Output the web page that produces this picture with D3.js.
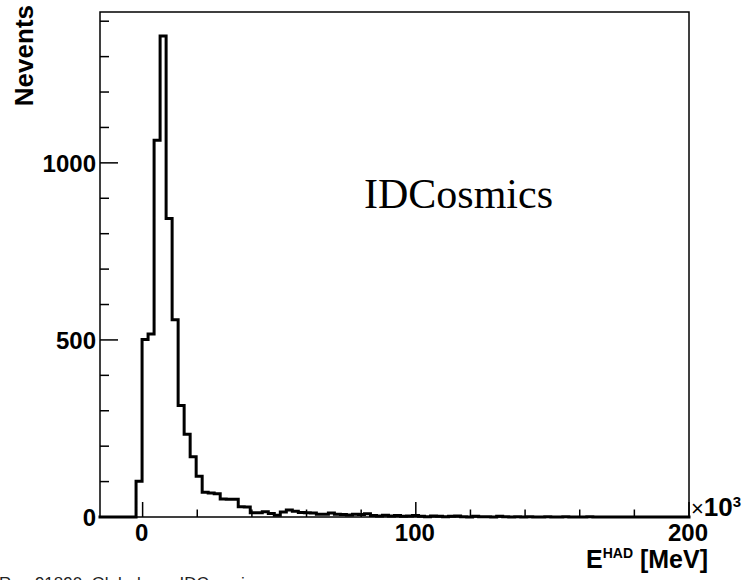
<!DOCTYPE html>
<html>
<head>
<meta charset="utf-8">
<script src="https://cdn.jsdelivr.net/npm/d3@7"></script>
<style>
  html, body { margin: 0; padding: 0; background: #fff; }
  svg { display: block; }
</style>
</head>
<body>
<svg id="chart" width="751" height="580"></svg>
<script>
// Histogram binning: 100 bins of 2.2 GeV starting at -20 GeV
const binStart = -20;
const binWidth = 2.2;
// Entries per bin (E^HAD in units of 10^3 MeV)
const counts = [
  0, 0, 0, 0, 0, 0, 0, 0,
  101, 501, 517, 1064, 1358, 843, 557, 315, 234, 170,
  115, 70, 68, 66, 51, 50, 50, 29, 28, 12,
  12, 15, 10, 5, 14, 20, 16, 13, 12, 11,
  8, 8, 11, 8, 7, 6, 8, 7, 9, 4,
  3, 5, 3, 4, 2, 3, 4, 2, 1, 3,
  2, 1, 2, 3, 1, 0, 2, 1, 1, 0,
  2, 1, 0, 1, 0, 1, 0, 0, 1, 0,
  0, 1, 0, 0, 0, 1, 0, 0, 0, 0,
  0, 0, 0, 0, 0, 0, 0, 0, 0, 0
];
const xDomain = [-15.6, 200];
const yDomain = [0, 1426];
const xMajorTicks = [0, 100, 200];
const xMinorTicks = [20, 40, 60, 80, 120, 140, 160, 180];
const yMajorTicks = [0, 500, 1000];
const yMinorTicks = [100, 200, 300, 400, 600, 700, 800, 900, 1100, 1200, 1300, 1400];

const svg = d3.select("#chart");
const plotL = 100, plotR = 689, plotT = 12, plotB = 517;

const x = d3.scaleLinear().domain(xDomain).range([plotL, plotR]);
const y = d3.scaleLinear().domain(yDomain).range([plotB, plotT]);

const sans = "'Liberation Sans', Arial, Helvetica, sans-serif";

// Step outline of the histogram, clipped to the visible axis range
const bins = counts.map((c, i) => ({
  lo: binStart + i * binWidth,
  hi: binStart + (i + 1) * binWidth,
  v: c
})).filter(b => b.hi > xDomain[0] + 1e-9 && b.lo < xDomain[1] + 1e-9);

const pts = [[xDomain[0], 0]];
bins.forEach(b => {
  const lo = Math.max(b.lo, xDomain[0]);
  const hi = Math.min(b.hi, xDomain[1]);
  pts.push([lo, b.v]);
  pts.push([hi, b.v]);
});
pts.push([xDomain[1], 0]);

// Frame
svg.append("rect")
  .attr("x", plotL).attr("y", plotT)
  .attr("width", plotR - plotL).attr("height", plotB - plotT)
  .attr("fill", "none").attr("stroke", "#000").attr("stroke-width", 1.5);

// Axis ticks drawn inward
const g = svg.append("g").attr("stroke", "#000").attr("stroke-width", 1.5);
yMajorTicks.forEach(t => g.append("line")
  .attr("x1", plotL).attr("x2", plotL + 18).attr("y1", y(t)).attr("y2", y(t)));
yMinorTicks.forEach(t => g.append("line")
  .attr("x1", plotL).attr("x2", plotL + 9).attr("y1", y(t)).attr("y2", y(t)));
xMajorTicks.forEach(t => g.append("line")
  .attr("x1", x(t)).attr("x2", x(t)).attr("y1", plotB).attr("y2", plotB - 15));
xMinorTicks.forEach(t => g.append("line")
  .attr("x1", x(t)).attr("x2", x(t)).attr("y1", plotB).attr("y2", plotB - 7.5));

// Histogram line
const line = d3.line().x(d => x(d[0])).y(d => y(d[1]));
svg.append("path")
  .attr("d", line(pts))
  .attr("fill", "none")
  .attr("stroke", "#000")
  .attr("stroke-width", 3)
  .attr("stroke-linejoin", "miter")
  .attr("stroke-linecap", "square");

// Tick labels
svg.selectAll(".ylab").data(yMajorTicks).enter().append("text")
  .attr("x", 96).attr("y", d => y(d) + 9)
  .attr("text-anchor", "end")
  .attr("font-family", sans).attr("font-weight", "bold").attr("font-size", 24)
  .text(d => d);

svg.selectAll(".xlab").data(xMajorTicks).enter().append("text")
  .attr("x", d => x(d) - 1).attr("y", 541)
  .attr("text-anchor", "middle")
  .attr("font-family", sans).attr("font-weight", "bold").attr("font-size", 24)
  .text(d => d);

// Exponent marker for the x axis
const mult = svg.append("text")
  .attr("x", 691).attr("y", 516)
  .attr("font-family", sans).attr("font-size", 22);
mult.append("tspan").text("\u00d7");
mult.append("tspan").attr("font-weight", "bold").attr("font-size", 26).text("10");
mult.append("tspan").attr("font-weight", "bold").attr("font-size", 15).attr("dy", -9).text("3");

// Axis titles
svg.append("text")
  .attr("transform", "translate(33,5) rotate(-90)")
  .attr("text-anchor", "end")
  .attr("font-family", sans).attr("font-weight", "bold").attr("font-size", 26)
  .text("Nevents");

const xt = svg.append("text")
  .attr("x", 708).attr("y", 568)
  .attr("text-anchor", "end")
  .attr("font-family", sans).attr("font-weight", "bold").attr("font-size", 25);
xt.append("tspan").text("E");
xt.append("tspan").attr("font-size", 14).attr("dy", -10).text("HAD");
xt.append("tspan").attr("dy", 10).text(" [MeV]");

// Sample label
svg.append("text")
  .attr("x", 364).attr("y", 208)
  .attr("font-family", "'Liberation Serif', 'Times New Roman', serif")
  .attr("font-size", 42)
  .text("IDCosmics");

// Run caption along the lower edge
svg.append("text")
  .attr("x", -1).attr("y", 589)
  .attr("font-family", sans).attr("font-size", 17).attr("fill", "#222")
  .text("Run 91890, Global run, IDCosmics");
</script>
</body>
</html>
